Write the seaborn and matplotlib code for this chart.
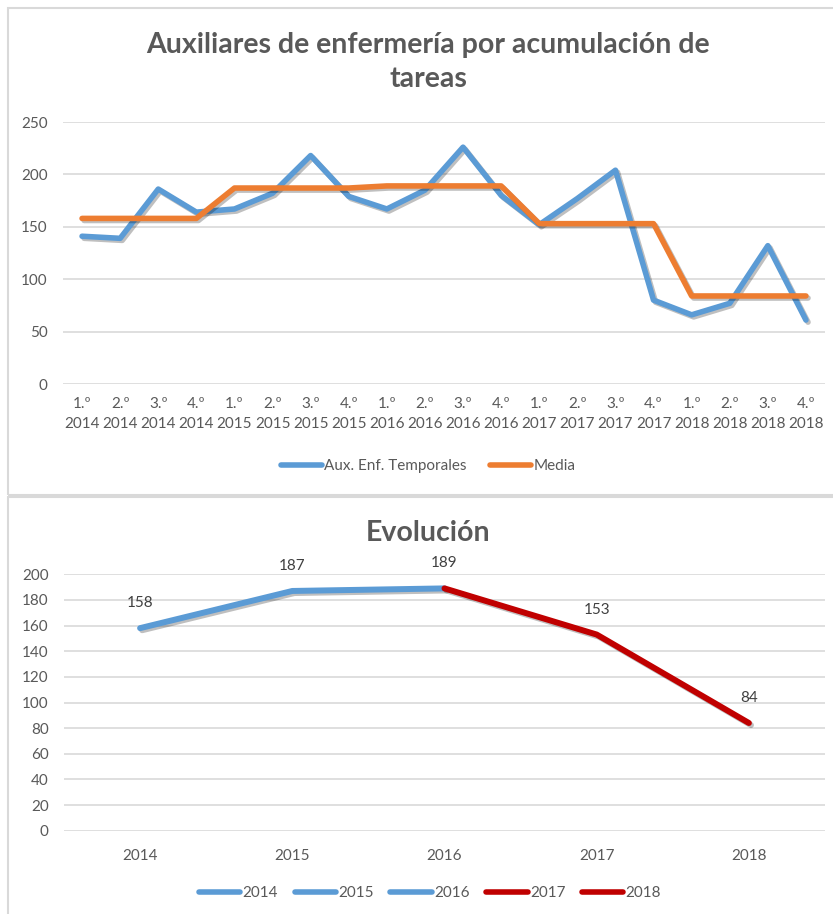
import matplotlib
matplotlib.use("Agg")
import matplotlib.pyplot as plt
import matplotlib.patheffects as pe
from matplotlib.lines import Line2D
from matplotlib.patches import Rectangle
import pandas as pd
import seaborn as sns

# datos
trimestres = ["1.º", "2.º", "3.º", "4.º"]
años = [2014, 2015, 2016, 2017, 2018]
aux_temporales = [141, 139, 186, 164, 167, 182, 218, 179, 167, 185,
                  226, 180, 152, 177, 204, 80, 66, 77, 132, 61]
media = [158, 158, 158, 158, 187, 187, 187, 187, 189, 189,
         189, 189, 153, 153, 153, 153, 84, 84, 84, 84]
media_anual = [158, 187, 189, 153, 84]
colores_años = ["#5B9BD5", "#5B9BD5", "#5B9BD5", "#C00000", "#C00000"]

BLUE = "#5B9BD5"
ORANGE = "#ED7D31"
RED = "#C00000"
TEXT = "#595959"
GRID = "#D9D9D9"

sns.set_theme(style="white")
plt.rcParams["font.family"] = ["Lato", "DejaVu Sans"]

etiquetas = [f"{t}\n{a}" for a in años for t in trimestres]
df = pd.DataFrame({"pos": range(len(etiquetas)), "Aux. Enf. Temporales": aux_temporales,
                   "Media": media})
df_anual = pd.DataFrame({"año": años, "media": media_anual})

fig = plt.figure(figsize=(8.33, 9.14), dpi=100)

# marcos de los dos gráficos (se salen por la derecha y por abajo)
fig.patches.append(Rectangle((8 / 833, 1 - 495 / 914), 900 / 833, 487 / 914,
                             transform=fig.transFigure, fill=False, ec=GRID, lw=1.5))
fig.patches.append(Rectangle((8 / 833, -0.05), 900 / 833, 1.05 - 497 / 914,
                             transform=fig.transFigure, fill=False, ec=GRID, lw=1.5))

shadow = [pe.SimpleLineShadow(offset=(1.5, -1.5), shadow_color="black", alpha=0.25), pe.Normal()]

# ---- gráfico superior
ax1 = fig.add_axes([63 / 833, 1 - 384 / 914, 762 / 833, 262 / 914])
sns.lineplot(data=df, x="pos", y="Aux. Enf. Temporales", color=BLUE, lw=4,
             ax=ax1, path_effects=shadow, solid_capstyle="round")
sns.lineplot(data=df, x="pos", y="Media", color=ORANGE, lw=4,
             ax=ax1, path_effects=shadow, solid_capstyle="round")
ax1.set_xlim(-0.5, len(etiquetas) - 0.5)
ax1.set_ylim(0, 250)
ax1.set_yticks(range(0, 251, 50))
ax1.set_xticks(range(len(etiquetas)))
ax1.set_xticklabels(etiquetas, linespacing=1.6)
ax1.set_xlabel("")
ax1.set_ylabel("")
ax1.grid(axis="y", color=GRID, lw=1.2)
ax1.set_axisbelow(True)
for s in ax1.spines.values():
    s.set_visible(False)
ax1.tick_params(axis="x", length=0, pad=9, labelsize=11, labelcolor=TEXT)
ax1.tick_params(axis="y", length=0, pad=11, labelsize=11, labelcolor=TEXT)
fig.text(428 / 833, 1 - 62 / 914, "Auxiliares de enfermería por acumulación de\ntareas",
         ha="center", va="center", fontsize=20.5, fontweight="bold", color=TEXT, linespacing=1.35)
h1 = [Line2D([], [], color=BLUE, lw=4, solid_capstyle="round"),
      Line2D([], [], color=ORANGE, lw=4, solid_capstyle="round")]
fig.legend(h1, ["Aux. Enf. Temporales", "Media"], loc="center",
           bbox_to_anchor=(428 / 833, 1 - 466 / 914), ncol=2, frameon=False,
           fontsize=11, labelcolor=TEXT, handlelength=2.7, handletextpad=0.15,
           columnspacing=1.5)

# ---- gráfico inferior
ax2 = fig.add_axes([64 / 833, 1 - 830.7 / 914, 761 / 833, 256.4 / 914])
sns.lineplot(data=df_anual.iloc[:3], x="año", y="media", color=BLUE, lw=4.3,
             ax=ax2, path_effects=shadow, solid_capstyle="round")
sns.lineplot(data=df_anual.iloc[2:], x="año", y="media", color=RED, lw=4.3,
             ax=ax2, path_effects=shadow, solid_capstyle="round")
for a, v in zip(años, media_anual):
    ax2.annotate(str(v), (a, v), xytext=(0, 18), textcoords="offset points",
                 ha="center", va="center", fontsize=11, color="#404040", annotation_clip=False)
ax2.set_xlim(años[0] - 0.5, años[-1] + 0.5)
ax2.set_ylim(0, 200)
ax2.set_yticks(range(0, 201, 20))
ax2.set_xticks(años)
ax2.set_xlabel("")
ax2.set_ylabel("")
ax2.grid(axis="y", color=GRID, lw=1.2)
ax2.set_axisbelow(True)
for s in ax2.spines.values():
    s.set_visible(False)
ax2.tick_params(axis="x", length=0, pad=13, labelsize=11, labelcolor=TEXT)
ax2.tick_params(axis="y", length=0, pad=11, labelsize=11, labelcolor=TEXT)
fig.text(428 / 833, 1 - 533 / 914, "Evolución", ha="center", va="center",
         fontsize=20.5, fontweight="bold", color=TEXT)
h2 = [Line2D([], [], color=c, lw=4, solid_capstyle="round") for c in colores_años]
fig.legend(h2, [str(a) for a in años], loc="center",
           bbox_to_anchor=(430 / 833, 1 - 893 / 914), ncol=5, frameon=False,
           fontsize=11, labelcolor=TEXT, handlelength=2.7, handletextpad=0.15,
           columnspacing=1.1)

fig.savefig("out.png", dpi=100)
